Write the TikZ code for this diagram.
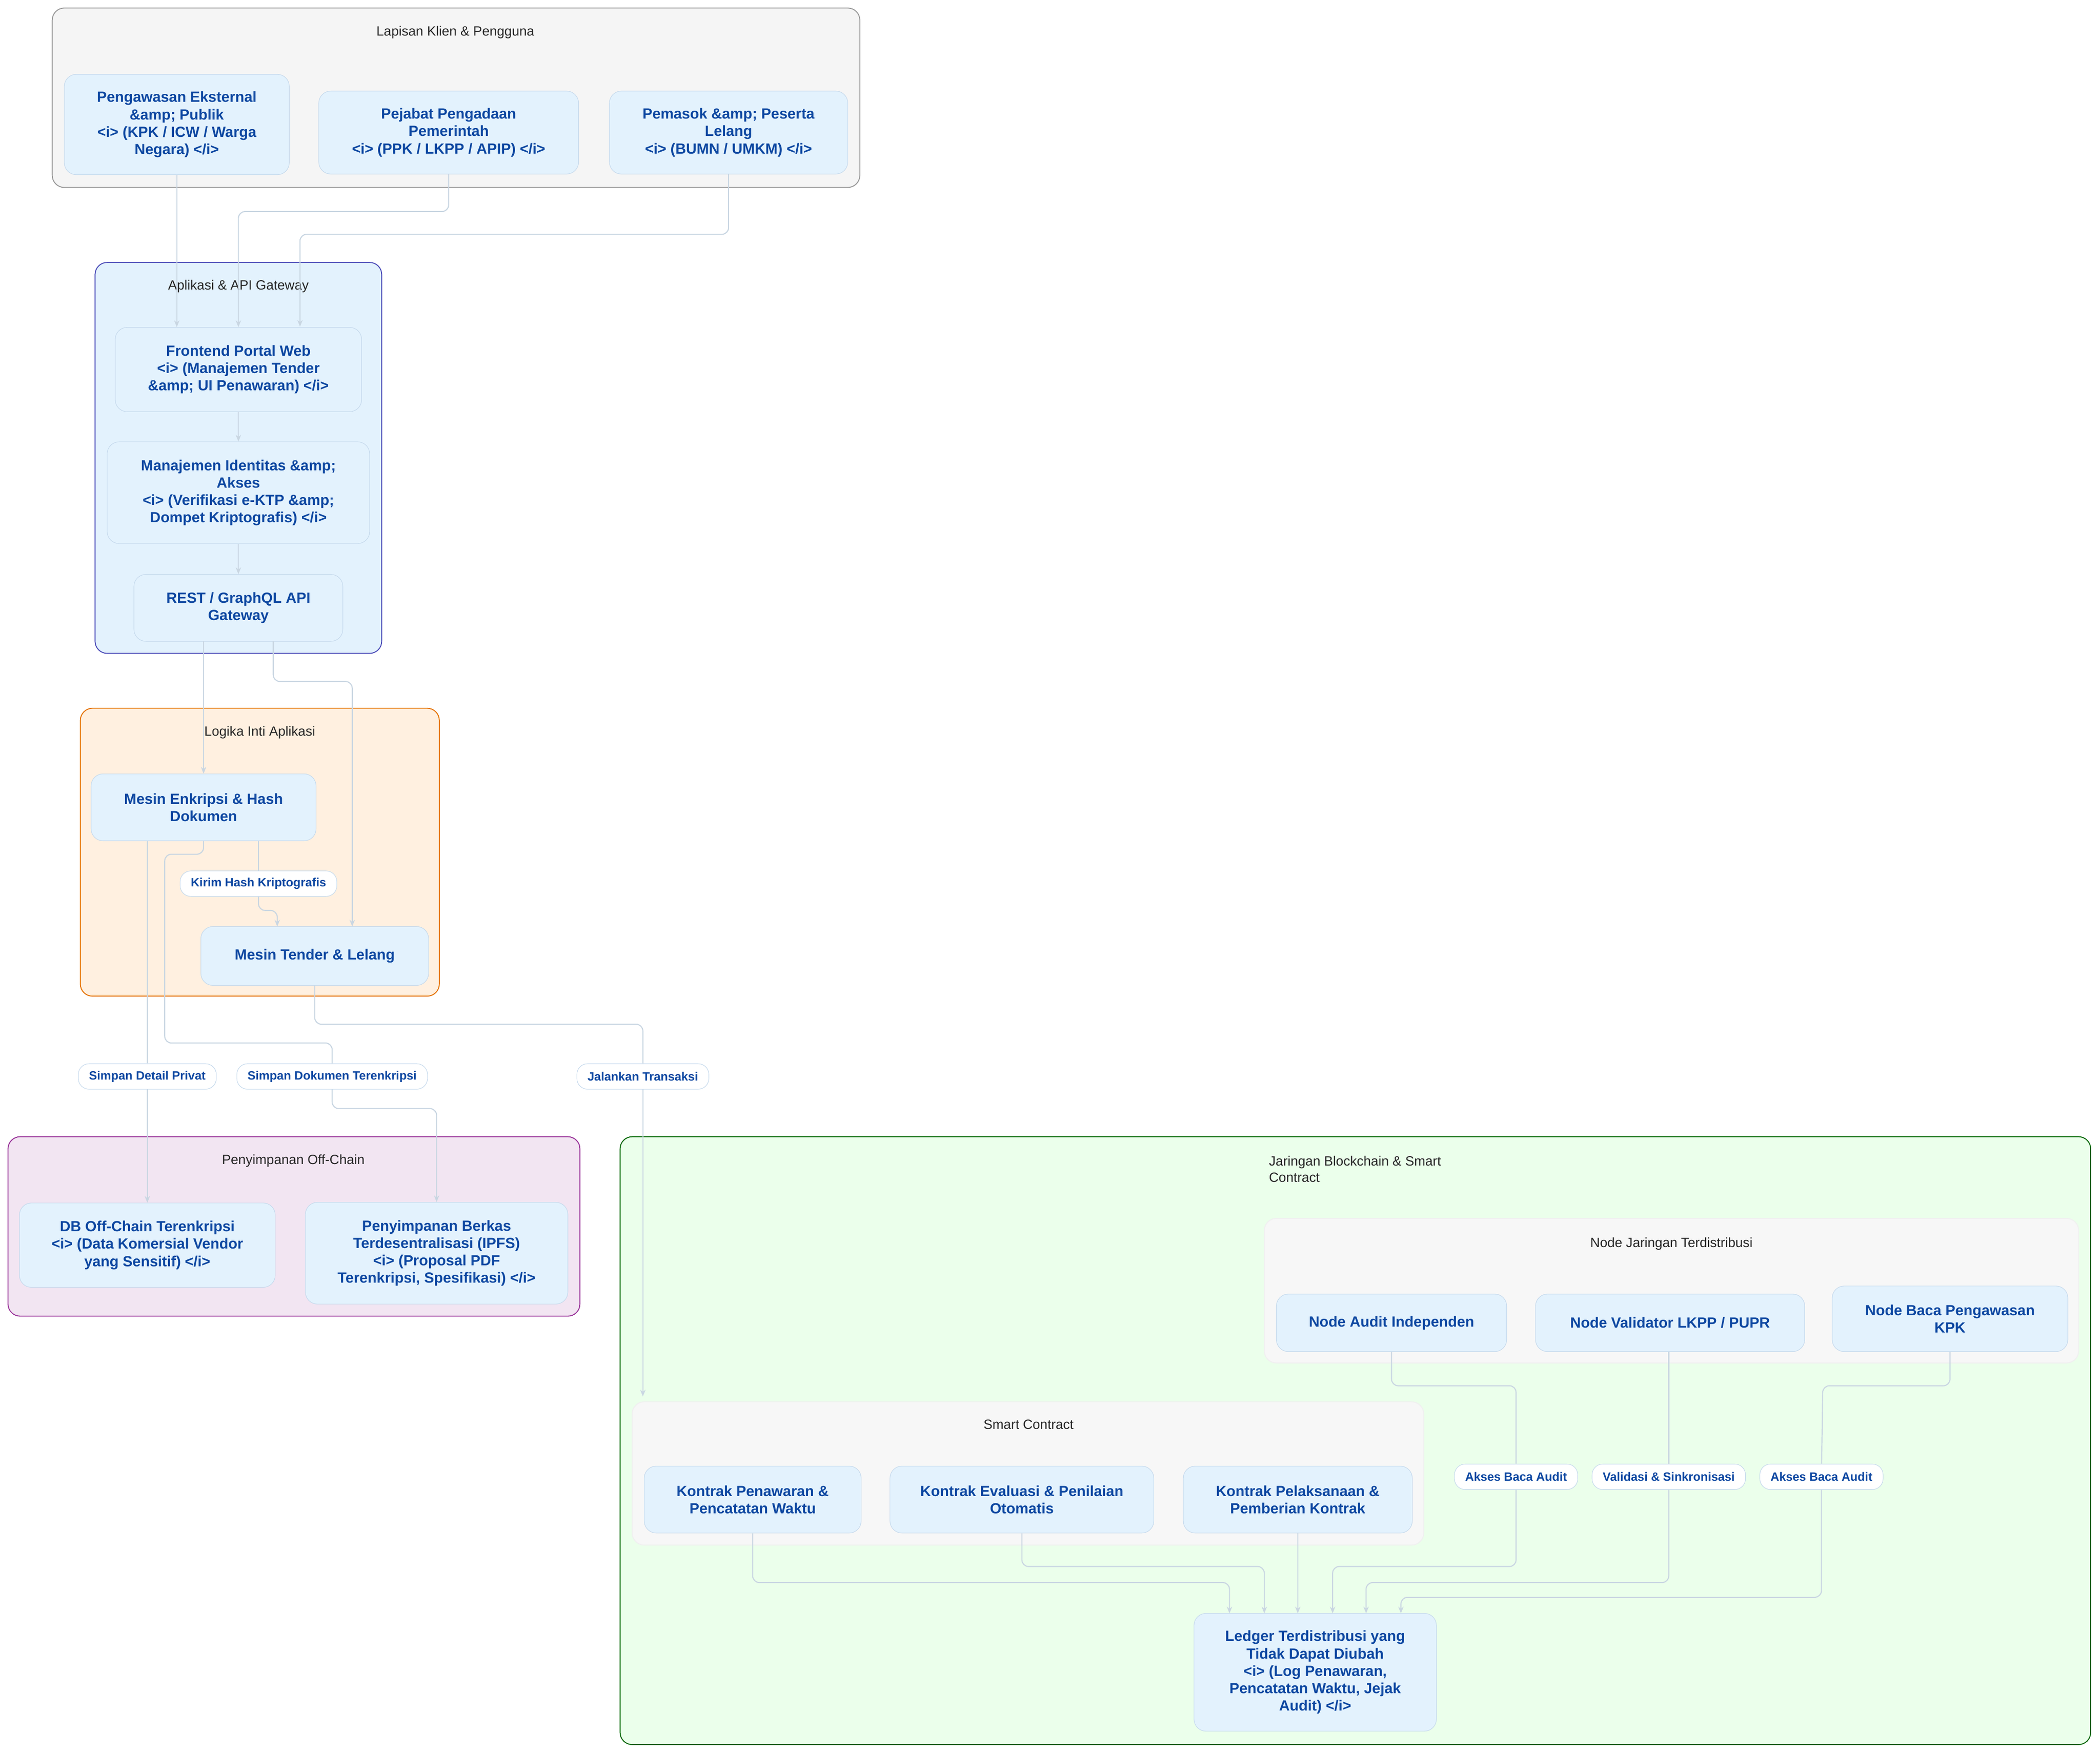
\documentclass[tikz,border=0pt]{standalone}
\usepackage{fontspec}
\setmainfont{Liberation Sans}
\usetikzlibrary{arrows.meta}
\definecolor{nodefill}{HTML}{E3F2FD}
\definecolor{nodeline}{HTML}{C5D9EC}
\definecolor{nodetext}{HTML}{0D47A1}
\definecolor{wire}{HTML}{C9D6E2}
\tikzset{
  box/.style={draw=nodeline, fill=nodefill, rounded corners=9pt, text=nodetext,
    font=\bfseries\fontsize{11}{13}\selectfont, align=center, inner sep=0pt},
  tag/.style={draw=nodeline, fill=white, rounded corners=8pt, text=nodetext,
    font=\bfseries\fontsize{9}{11}\selectfont, minimum height=19pt, inner xsep=8pt},
  group/.style={rounded corners=9pt, line width=0.7pt},
  gtitle/.style={font=\fontsize{10}{12}\selectfont, text=black!85},
  wire/.style={draw=wire, line width=0.8pt, rounded corners=5pt, -{Stealth[length=5pt,width=4pt]}},
  plain/.style={draw=wire, line width=0.8pt, rounded corners=5pt}
}
\begin{document}
\begin{tikzpicture}[x=1pt,y=-1pt]
  \useasboundingbox (0,0) rectangle (1568,1309);

  % groups
  \draw[group, draw=black!40, fill=black!4] (39,6) rectangle (642,140);
  \node[gtitle] (tclient) at (340,24) {Lapisan Klien \& Pengguna};
  \draw[group, draw=blue!60!black!70, fill=nodefill] (71,196) rectangle (285,488);
  \node[gtitle] (tapi) at (178,214) {Aplikasi \& API Gateway};
  \draw[group, draw=orange!90!black, fill=orange!12] (60,529) rectangle (328,744);
  \node[gtitle] (tlogic) at (194,547) {Logika Inti Aplikasi};
  \draw[group, draw=violet!80, fill=violet!10] (6,849) rectangle (433,983);
  \node[gtitle] (toff) at (219,867) {Penyimpanan Off-Chain};
  \draw[group, draw=green!40!black, fill=green!8] (463,849) rectangle (1561,1303);
  \node[gtitle, align=left, anchor=north west] (tchain) at (944,860) {Jaringan Blockchain \& Smart\\Contract};
  \draw[group, draw=black!6, fill=black!3] (944,910) rectangle (1552,1018);
  \node[gtitle] (tnet) at (1248,929) {Node Jaringan Terdistribusi};
  \draw[group, draw=black!6, fill=black!3] (472,1047) rectangle (1063,1154);
  \node[gtitle] (tsc) at (768,1064) {Smart Contract};

  % nodes
  \node[box, minimum width=168pt, minimum height=75pt] (pengawas) at (132,93) {Pengawasan Eksternal\\\&amp; Publik\\<i> (KPK / ICW / Warga\\Negara) </i>};
  \node[box, minimum width=194pt, minimum height=62pt] (pejabat) at (335,99) {Pejabat Pengadaan\\Pemerintah\\<i> (PPK / LKPP / APIP) </i>};
  \node[box, minimum width=178pt, minimum height=62pt] (pemasok) at (544,99) {Pemasok \&amp; Peserta\\Lelang\\<i> (BUMN / UMKM) </i>};
  \node[box, minimum width=184pt, minimum height=63pt] (portal) at (178,276) {Frontend Portal Web\\<i> (Manajemen Tender\\\&amp; UI Penawaran) </i>};
  \node[box, minimum width=196pt, minimum height=76pt] (iam) at (178,368) {Manajemen Identitas \&amp;\\Akses\\<i> (Verifikasi e-KTP \&amp;\\Dompet Kriptografis) </i>};
  \node[box, minimum width=156pt, minimum height=50pt] (gateway) at (178,454) {REST / GraphQL API\\Gateway};
  \node[box, minimum width=168pt, minimum height=50pt] (enkripsi) at (152,603) {Mesin Enkripsi \& Hash\\Dokumen};
  \node[box, minimum width=170pt, minimum height=44pt] (tender) at (235,714) {Mesin Tender \& Lelang};
  \node[box, minimum width=191pt, minimum height=63pt] (offdb) at (110,930) {DB Off-Chain Terenkripsi\\<i> (Data Komersial Vendor\\yang Sensitif) </i>};
  \node[box, minimum width=196pt, minimum height=76pt] (ipfs) at (326,936) {Penyimpanan Berkas\\Terdesentralisasi (IPFS)\\<i> (Proposal PDF\\Terenkripsi, Spesifikasi) </i>};
  \node[box, minimum width=172pt, minimum height=43pt] (audit) at (1039,988) {Node Audit Independen};
  \node[box, minimum width=201pt, minimum height=43pt] (validator) at (1247,988) {Node Validator LKPP / PUPR};
  \node[box, minimum width=176pt, minimum height=49pt] (kpk) at (1456,985) {Node Baca Pengawasan\\KPK};
  \node[box, minimum width=162pt, minimum height=50pt] (kontrakA) at (562,1120) {Kontrak Penawaran \&\\Pencatatan Waktu};
  \node[box, minimum width=197pt, minimum height=50pt] (kontrakB) at (763,1120) {Kontrak Evaluasi \& Penilaian\\Otomatis};
  \node[box, minimum width=171pt, minimum height=50pt] (kontrakC) at (969,1120) {Kontrak Pelaksanaan \&\\Pemberian Kontrak};
  \node[box, minimum width=181pt, minimum height=88pt] (ledger) at (982,1249) {Ledger Terdistribusi yang\\Tidak Dapat Diubah\\<i> (Log Penawaran,\\Pencatatan Waktu, Jejak\\Audit) </i>};

  % edge labels
  \node[tag] (lhash) at (193,660) {Kirim Hash Kriptografis};
  \node[tag] (lprivat) at (110,804) {Simpan Detail Privat};
  \node[tag] (ldok) at (248,804) {Simpan Dokumen Terenkripsi};
  \node[tag] (ltrans) at (480,804) {Jalankan Transaksi};
  \node[tag] (laudit) at (1132,1103) {Akses Baca Audit};
  \node[tag] (lvalid) at (1246,1103) {Validasi \& Sinkronisasi};
  \node[tag] (lkpk) at (1360,1103) {Akses Baca Audit};

  % connectors
  \draw[wire] (pengawas.south) -- (portal.north -| pengawas.south);
  \draw[wire] (pejabat.south) |- (178,158) -- (portal.north);
  \draw[wire] (pemasok.south) |- (224,175) -- (224,244);
  \draw[wire] (portal) -- (iam);
  \draw[wire] (iam) -- (gateway);
  \draw[wire] (152,479) -- (enkripsi.north -| 152,0);
  \draw[wire] (204,479) |- (263,509) -- (263,692);
  \draw[plain] (193,628) -- (lhash);
  \draw[wire] (lhash) |- (207,680) -- (207,692);
  \draw[plain] (110,628) -- (lprivat);
  \draw[wire] (lprivat) -- (offdb.north -| lprivat);
  \draw[plain] (152,628) |- (123,638) |- (248,779) -- (ldok);
  \draw[wire] (ldok) |- (326,828) -- (ipfs.north);
  \draw[plain] (tender.south) |- (480,765) -- (ltrans);
  \draw[wire] (ltrans) -- (480,1043);
  \draw[wire] (kontrakA.south) |- (918,1182) -- (918,1205);
  \draw[wire] (kontrakB.south) |- (944,1170) -- (944,1205);
  \draw[wire] (kontrakC.south) -- (969,1205);
  \draw[plain] (audit.south) |- (1132,1035) -- (laudit);
  \draw[wire] (laudit) |- (995,1170) -- (995,1205);
  \draw[plain] (validator.south -| lvalid) -- (lvalid);
  \draw[wire] (lvalid) |- (1020,1182) -- (1020,1205);
  \draw[plain] (kpk.south) |- (1361,1035) -- (lkpk);
  \draw[wire] (lkpk) |- (1046,1193) -- (1046,1205);
\end{tikzpicture}
\end{document}
